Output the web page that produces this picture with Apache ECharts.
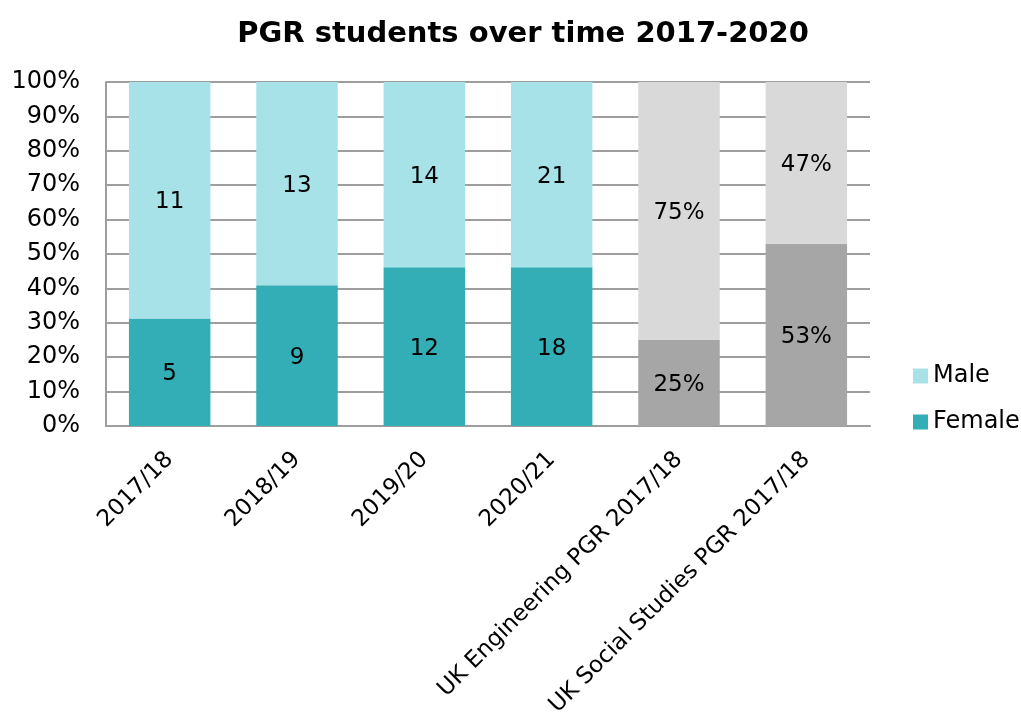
<!DOCTYPE html>
<html>
<head>
<meta charset="utf-8">
<title>PGR students over time 2017-2020</title>
<script src="https://cdn.jsdelivr.net/npm/echarts@6/dist/echarts.min.js"></script>
<style>
  html, body { margin: 0; padding: 0; background: #fff; }
  #chart { width: 1021px; height: 720px; }
</style>
</head>
<body>
<div id="chart"></div>
<script>
// Categories along the x axis
const categories = ['2017/18', '2018/19', '2019/20', '2020/21',
  'UK Engineering PGR 2017/18', 'UK Social Studies PGR 2017/18'];

// Student head counts per academic year
const femaleCounts = [5, 9, 12, 18];
const maleCounts = [11, 13, 14, 21];

// UK-wide comparison shares (percent)
const ukFemalePct = [25, 53];
const ukMalePct = [75, 47];

// Y axis ticks
const yTicks = [0, 10, 20, 30, 40, 50, 60, 70, 80, 90, 100];

const FONT = 'DejaVu Sans';
const teal = '#33AEB7';
const tealLight = '#A8E2E9';
const greyDark = '#A6A6A6';
const greyLight = '#D9D9D9';

// Build the 100%-stacked data: local years from counts, UK bars from shares
function buildSeries(counts, otherCounts, ukPct, ukColor) {
  const items = counts.map((c, i) => ({
    value: c / (c + otherCounts[i]) * 100,
    labelText: String(c)
  }));
  ukPct.forEach(p => items.push({
    value: p,
    labelText: p + '%',
    itemStyle: { color: ukColor }
  }));
  return items;
}

const femaleData = buildSeries(femaleCounts, maleCounts, ukFemalePct, greyDark);
const maleData = buildSeries(maleCounts, femaleCounts, ukMalePct, greyLight);

const chart = echarts.init(document.getElementById('chart'), null, { renderer: 'canvas' });

const labelStyle = {
  show: true,
  position: 'inside',
  color: '#000',
  fontFamily: FONT,
  fontSize: 23,
  offset: [0, 2],
  formatter: p => p.data.labelText
};

chart.setOption({
  animation: false,
  textStyle: { fontFamily: FONT },
  title: {
    text: 'PGR students over time 2017-2020',
    left: 518,
    textAlign: 'center',
    top: 15,
    textStyle: { fontFamily: FONT, fontWeight: 'bold', fontSize: 29, color: '#000' }
  },
  legend: {
    orient: 'vertical',
    left: 908,
    top: 359,
    itemWidth: 15,
    itemHeight: 15,
    itemGap: 22,
    icon: 'rect',
    data: ['Male', 'Female'],
    textStyle: { fontFamily: FONT, fontSize: 24, color: '#000', padding: [0, 0, 0, 0] }
  },
  grid: { left: 106, right: 151, top: 82, bottom: 294 },
  xAxis: {
    type: 'category',
    data: categories,
    axisLine: { lineStyle: { color: '#9E9E9E', width: 2 } },
    axisTick: { show: false },
    axisLabel: {
      rotate: 45,
      interval: 0,
      margin: 30,
      color: '#000',
      fontFamily: FONT,
      fontSize: 23
    }
  },
  yAxis: {
    type: 'value',
    min: yTicks[0],
    max: yTicks[yTicks.length - 1],
    interval: yTicks[1] - yTicks[0],
    axisLine: { show: true, lineStyle: { color: '#9E9E9E', width: 2 } },
    axisTick: { show: false },
    splitLine: { lineStyle: { color: '#9E9E9E', width: 2 } },
    axisLabel: {
      formatter: '{value}%',
      margin: 26,
      color: '#000',
      fontFamily: FONT,
      fontSize: 24
    }
  },
  series: [
    {
      name: 'Female',
      type: 'bar',
      stack: 'share',
      barCategoryGap: '36%',
      itemStyle: { color: teal },
      label: labelStyle,
      data: femaleData
    },
    {
      name: 'Male',
      type: 'bar',
      stack: 'share',
      barCategoryGap: '36%',
      itemStyle: { color: tealLight },
      label: labelStyle,
      data: maleData
    }
  ]
});
</script>
</body>
</html>
